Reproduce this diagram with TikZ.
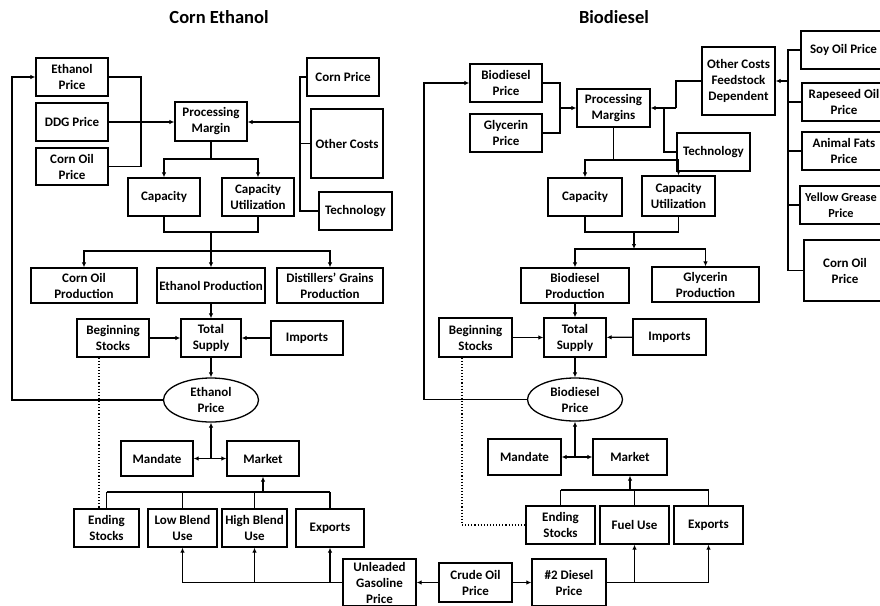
\documentclass[tikz,border=0pt]{standalone}
\usepackage{fontspec}
\setmainfont{Carlito}
\usetikzlibrary{shapes.geometric,arrows.meta}
\tikzset{
  bx/.style={draw, line width=1.3pt, inner sep=0pt, align=center, font=\bfseries\fontsize{13}{16}\selectfont},
  ell/.style={bx, ellipse},
  ttl/.style={font=\bfseries\fontsize{18.5}{22}\selectfont},
  ln/.style={line width=1.3pt},
  dl/.style={dotted, line width=1.1pt},
  >={Latex[length=5pt,width=4.5pt]}
}
\newcommand\bx[6]{\node[bx, minimum width={(#4)-(#2)}, minimum height={(#5)-(#3)}] (#1) at ({((#2)+(#4))/2},{((#3)+(#5))/2}) {#6};}
\begin{document}
\begin{tikzpicture}[x=1pt,y=-1pt]
\clip (0,0) rectangle (880,605);
\fill[white] (0,0) rectangle (880,605);
% ---------- Corn Ethanol ----------
\node[ttl] (t1) at (219,17) {Corn Ethanol};
\bx{ep}{36}{58}{108}{96}{Ethanol\\Price}
\bx{ddg}{36}{103}{108}{141}{DDG Price}
\bx{cop}{36}{148}{108}{185}{Corn Oil\\Price}
\bx{pm}{175}{102}{247}{141}{Processing\\Margin}
\bx{cp}{307}{58}{379}{96}{Corn Price}
\bx{oc}{311}{109}{383}{178}{Other Costs}
\bx{tech}{319}{192}{392}{230}{Technology}
\bx{cap}{128}{178}{200}{216}{Capacity}
\bx{cu}{222}{178}{294}{216}{Capacity\\Utilization}
\bx{cop2}{31}{268}{137}{303}{Corn Oil\\Production}
\bx{etp}{157}{268}{265}{303}{Ethanol Production}
\bx{dgp}{277}{268}{383}{303}{Distillers’ Grains\\Production}
\bx{bs}{77}{319}{149}{357}{Beginning\\Stocks}
\bx{ts}{181}{319}{241}{357}{Total\\Supply}
\bx{imp}{271}{321}{343}{355}{Imports}
\node[ell, minimum width=95pt, minimum height=44pt] (epr) at (211,400) {Ethanol\\Price};
\bx{man}{121}{441}{193}{476}{Mandate}
\bx{mkt}{227}{441}{299}{476}{Market}
\bx{es}{74}{509}{139}{547}{Ending\\Stocks}
\bx{lbu}{148}{509}{217}{547}{Low Blend\\Use}
\bx{hbu}{222}{509}{287}{547}{High Blend\\Use}
\bx{exp}{296}{509}{364}{547}{Exports}
\bx{ugp}{343}{559}{416}{606}{Unleaded\\Gasoline\\Price}
\bx{crude}{439}{563}{512}{602}{Crude Oil\\Price}
\bx{dsl}{532}{559}{606}{606}{\#2 Diesel\\Price}

\coordinate (lbus) at (141,122);
\coordinate (rbus) at (300,122);
\coordinate (pmj) at (211,159);
\coordinate (cj) at (211,232);
\coordinate (pj) at (211,251);
\coordinate (lfb) at (12,77);
\coordinate (J1) at (211,458.5);
\coordinate (B1) at (263,492);
\coordinate (dlx) at (99,0);

\draw[ln] (ep.east) -| (lbus) |- (cop.east);
\draw[ln,->] (ddg.east) -- (ddg.east -| pm.west);
\draw[ln] (cp.west) -| (rbus) |- (tech.west);
\draw[ln] (oc.west) -- (oc.west -| rbus);
\draw[ln,->] (rbus) -- (rbus -| pm.east);
\draw[ln] (pm.south) -- (pmj);
\draw[ln,->] (pmj) -| (cap.north);
\draw[ln,->] (pmj) -| (cu.north);
\draw[ln] (cap.south) |- (cj) -| (cu.south);
\draw[ln] (cj) -- (pj);
\draw[ln,->] (pj) -- (etp.north);
\draw[ln,->] (pj) -| (cop2.north);
\draw[ln,->] (pj) -| (dgp.north);
\draw[ln,->] (etp.south) -- (ts.north);
\draw[ln,->] (bs) -- (ts);
\draw[ln,->] (imp) -- (ts);
\draw[ln,->] (ts) -- (epr);
\draw[ln,->] (epr.west) -| (lfb) -- (ep.west);
\draw[ln,->] (J1) -- (epr.south);
\draw[ln,->] (J1) -- (J1 -| man.east);
\draw[ln,->] (J1) -- (J1 -| mkt.west);
\draw[ln] (es.north |- B1) -- (exp.north |- B1);
\draw[ln] (es.north |- B1) -- (es.north);
\draw[ln] (lbu.north |- B1) -- (lbu.north);
\draw[ln] (hbu.north |- B1) -- (hbu.north);
\draw[ln] (exp.north |- B1) -- (exp.north);
\draw[ln,->] (B1) -- (mkt.south);
\draw[dl] (bs.south -| dlx) -- (es.north -| dlx);
\draw[ln] (ugp.west) -- (ugp.west -| lbu.south);
\draw[ln,->] (ugp.west -| lbu.south) -- (lbu.south);
\draw[ln,->] (ugp.west -| hbu.south) -- (hbu.south);
\draw[ln,->] (ugp.west -| exp.south) -- (exp.south);
\draw[ln,->] (crude) -- (ugp);
\draw[ln,->] (crude) -- (dsl);

% ---------- Biodiesel ----------
\node[ttl] (t2) at (614,17) {Biodiesel};
\bx{bp}{470}{64}{542}{102}{Biodiesel\\Price}
\bx{gp}{470}{114}{542}{152}{Glycerin\\Price}
\bx{pms}{577}{89}{650}{127}{Processing\\Margins}
\bx{ocf}{702}{47}{775}{115}{Other Costs\\Feedstock\\Dependent}
\bx{tech2}{677}{133}{750}{171}{Technology}
\bx{soy}{801}{31}{886}{69}{Soy Oil Price}
\bx{rap}{802}{83}{886}{121}{Rapeseed Oil\\Price}
\bx{af}{802}{132}{886}{170}{Animal Fats\\Price}
\node[bx, font=\bfseries\fontsize{12.3}{16}\selectfont, minimum width=82pt, minimum height=38pt] (yg) at (841,205) {Yellow Grease\\Price};
\bx{cop3}{804}{240}{886}{301}{Corn Oil\\Price}
\bx{cap2}{548}{178}{622}{216}{Capacity}
\bx{cu2}{642}{176}{715}{216}{Capacity\\Utilization}
\bx{bdp}{521}{268}{629}{303}{Biodiesel\\Production}
\bx{glp}{652}{267}{759}{302}{Glycerin\\Production}
\bx{bs2}{439}{318}{512}{357}{Beginning\\Stocks}
\bx{ts2}{544}{318}{606}{357}{Total\\Supply}
\bx{imp2}{633}{319}{706}{355}{Imports}
\node[ell, minimum width=95pt, minimum height=43pt] (bpr) at (575,399.5) {Biodiesel\\Price};
\bx{man2}{488}{439}{561}{475}{Mandate}
\bx{mkt2}{593}{439}{667}{475}{Market}
\bx{es2}{526}{506}{595}{544}{Ending\\Stocks}
\bx{fu}{600}{506}{669}{544}{Fuel Use}
\bx{exp2}{674}{506}{743}{544}{Exports}

\coordinate (bb) at (560,108);
\coordinate (ob) at (676,108);
\coordinate (tb) at (664,108);
\coordinate (sb) at (788,81);
\coordinate (pmj2) at (613.5,160);
\coordinate (cj2) at (634,232);
\coordinate (pj2) at (634,249);
\coordinate (rfb) at (424,83);
\coordinate (J2) at (575,457);
\coordinate (B2) at (630,490);
\coordinate (dl2) at (462,525);

\draw[ln] (bp.east) -| (bb) |- (gp.east);
\draw[ln,->] (bb) -- (bb -| pms.west);
\draw[ln] (ocf.west) -| (ob);
\draw[ln,->] (ob) -- (ob -| pms.east);
\draw[ln] (tech2.west) -| (tb);
\draw[ln] (soy.west) -| (sb) |- (cop3.west);
\draw[ln] (rap.west) -- (rap.west -| sb);
\draw[ln] (af.west) -- (af.west -| sb);
\draw[ln] (yg.west) -- (yg.west -| sb);
\draw[ln,->] (sb) -- (ocf.east);
\draw[ln] (pms.south) -- (pmj2);
\draw[ln,->] (pmj2) -| (cap2.north);
\draw[ln,->] (pmj2) -| (cu2.north);
\draw[ln] (cap2.south) |- (cj2) -| (cu2.south);
\draw[ln,->] (cj2) -- (pj2);
\draw[ln,->] (pj2) -| (bdp.north);
\draw[ln,->] (pj2) -| (glp.north);
\draw[ln,->] (bdp.south) -- (ts2.north);
\draw[ln,->] (bs2) -- (ts2);
\draw[ln,->] (imp2) -- (ts2);
\draw[ln,->] (ts2) -- (bpr);
\draw[ln,->] (bpr.west) -| (rfb) -- (bp.west);
\draw[ln,->] (J2) -- (bpr.south);
\draw[ln,->] (J2) -- (J2 -| man2.east);
\draw[ln,->] (J2) -- (J2 -| mkt2.west);
\draw[ln] (es2.north |- B2) -- (exp2.north |- B2);
\draw[ln] (es2.north |- B2) -- (es2.north);
\draw[ln] (fu.north |- B2) -- (fu.north);
\draw[ln] (exp2.north |- B2) -- (exp2.north);
\draw[ln,->] (B2) -- (mkt2.south);
\draw[dl] (bs2.south -| dl2) |- (es2.west);
\draw[ln] (dsl.east) -- (dsl.east -| exp2.south);
\draw[ln,->] (dsl.east -| fu.south) -- (fu.south);
\draw[ln,->] (dsl.east -| exp2.south) -- (exp2.south);
\end{tikzpicture}
\end{document}
